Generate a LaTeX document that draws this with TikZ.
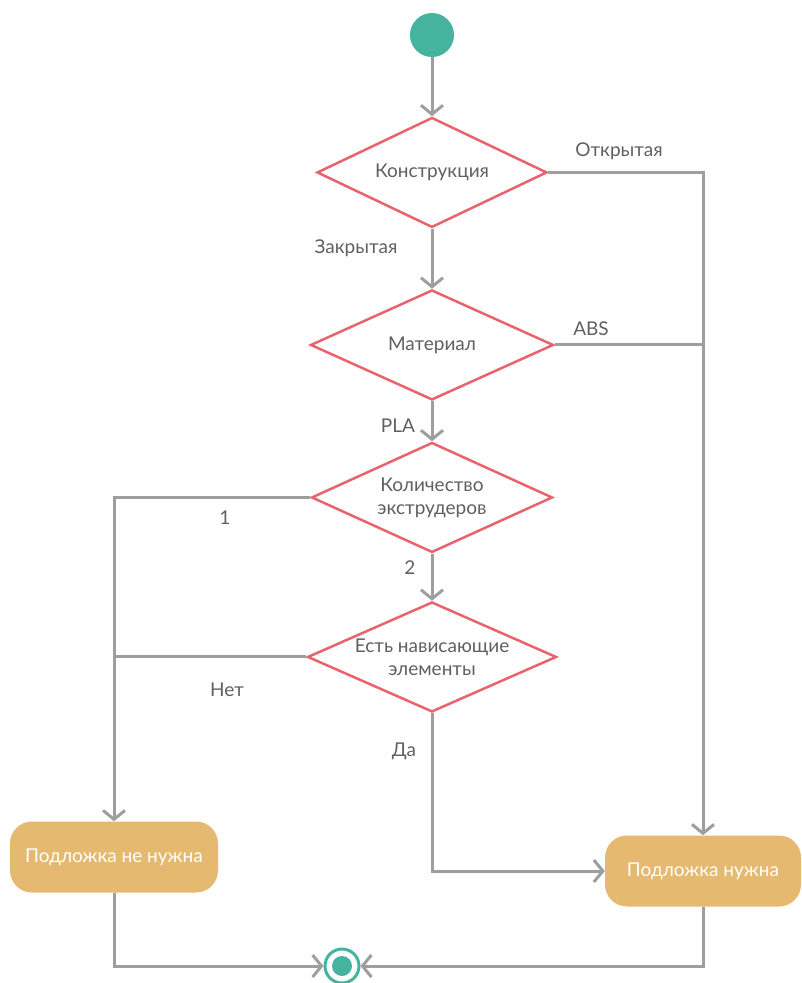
\documentclass[tikz,border=0pt]{standalone}
\usepackage{fontspec}
\setmainfont{Lato}
\usetikzlibrary{shapes.geometric, positioning, arrows.meta, calc}
\definecolor{startgreen}{HTML}{45B39D}
\definecolor{diared}{HTML}{E8636E}
\definecolor{boxgold}{HTML}{E5B96F}
\definecolor{flowgray}{HTML}{9E9E9E}
\definecolor{textgray}{HTML}{606060}

\begin{document}
\begin{tikzpicture}[x=1pt, y=-1pt,
    decision/.style n args={2}{diamond, 
      draw=diared, 
      line width=2.5pt, 
      fill=white, 
      inner sep=0pt, 
      minimum width=#1, 
      minimum height=110pt, 
      label={[text=textgray, align=center, inner sep=0pt]center:#2}},
    action/.style={rectangle, 
      rounded corners=22pt, 
      fill=boxgold, 
      minimum width=#1, 
      minimum height=71pt, 
      text=white},
    flow/.style={draw=flowgray, 
      line width=3pt, 
      -{Straight Barb[length=9pt, width=22pt]}},
    flowlink/.style={draw=flowgray, line width=3pt},
    guard/.style={text=textgray, inner sep=0pt}]
  \useasboundingbox (0,0) rectangle (801,983);
  \fontsize{19}{23}\selectfont

  \node [circle, 
    fill=startgreen, 
    minimum size=44pt, 
    inner sep=0pt] (start) at (432,35) {};

  \node [decision={230pt}{Конструкция}, 
    below=59pt of start] (construct) {};

  \node [decision={243pt}{Материал}, 
    below=60pt of construct] (material) {};

  \node [decision={241pt}{Количество\\экструдеров}, 
    below=40pt of material] (extruders) {};

  \node [decision={249pt}{Есть нависающие\\элементы}, 
    below=47pt of extruders] (overhang) {};

  \node [action=208pt] (nosupport) at (114,857) {Подложка не нужна};

  \node [action=196pt] (support) at (703,871) {Подложка нужна};

  \node [circle, 
    draw=startgreen, 
    line width=3pt, 
    fill=white, 
    minimum size=34pt, 
    inner sep=0pt, 
    path picture={\fill[startgreen] (path picture bounding box.center) circle (10pt);}] 
    (finish) at (342,966) {};

  % guard labels
  \node [guard] (open) at (619,151) {Открытая};
  \node [guard] (closed) at (356,248) {Закрытая};
  \node [guard] (abs) at (591,329) {ABS};
  \node [guard] (pla) at (398,426) {PLA};
  \node [guard] (one) at (225,518) {1};
  \node [guard] (two) at (410,568) {2};
  \node [guard] (no) at (227,690) {Нет};
  \node [guard] (yes) at (404,751) {Да};

  \draw[flow] (start) -- (construct);
  \draw[flow] (construct) -- (material);
  \draw[flow] (material) -- (extruders);
  \draw[flow] (extruders) -- (overhang);

  \draw[flow] (construct.east) -| (support.north);
  \draw[flowlink] (material.east) -- (material.east -| support.north);

  \draw[flow] (extruders.west) -| (nosupport.north);
  \draw[flowlink] (overhang.west) -- (overhang.west -| nosupport.north);

  \draw[flow] (overhang.south) |- (support.west);

  \draw[flow] (nosupport.south) |- (finish.west);
  \draw[flow] (support.south) |- (finish.east);

\end{tikzpicture}
\end{document}
